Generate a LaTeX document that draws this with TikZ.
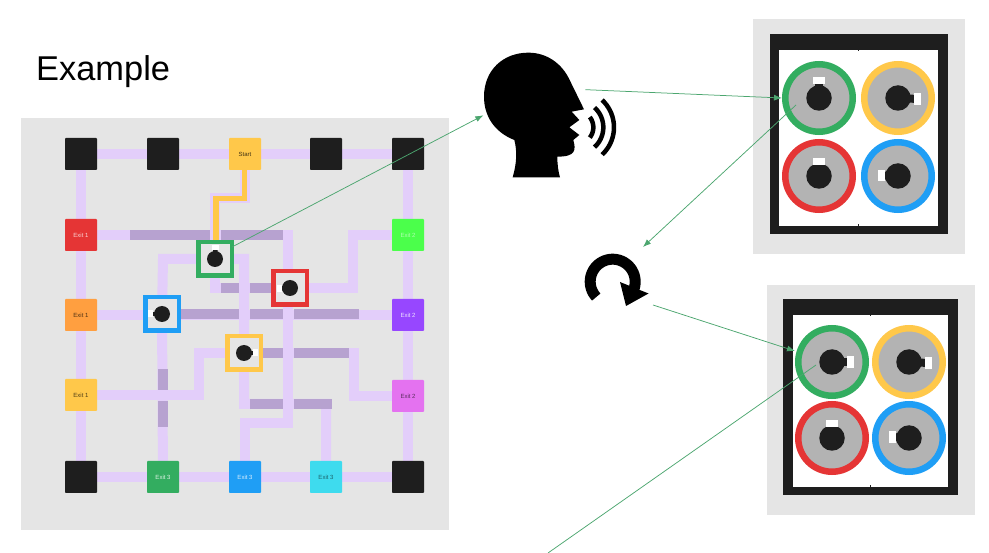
\documentclass[tikz,border=0pt]{standalone}
\usepackage{fontspec}
\setmainfont{Liberation Sans}
\usetikzlibrary{arrows.meta,backgrounds}
\definecolor{panelc}{HTML}{E5E5E5}
\definecolor{lightp}{HTML}{E3CEFA}
\definecolor{darkp}{HTML}{B7A2D0}
\definecolor{blackc}{HTML}{1E1E1E}
\definecolor{cred}{HTML}{E53535}
\definecolor{corange}{HTML}{FF9F40}
\definecolor{cyellow}{HTML}{FFC84A}
\definecolor{cgreen}{HTML}{33AD60}
\definecolor{cblue}{HTML}{1F9EF5}
\definecolor{ccyan}{HTML}{3EDBEE}
\definecolor{cmag}{HTML}{E472F0}
\definecolor{cpurple}{HTML}{9747FF}
\definecolor{clime}{HTML}{4BFF4B}
\definecolor{wheelc}{HTML}{B3B3B3}
\definecolor{conn}{HTML}{4CA66F}
\tikzset{
  tile/.style={minimum size=32,inner sep=0,rounded corners=0.8,font=\fontsize{6}{7}\selectfont},
  blk/.style={tile,fill=blackc},
  frm/.style={minimum size=33.5,inner sep=0,line width=4.5,draw=#1,fill=panelc},
  lane/.style={draw=lightp,line width=10,line join=miter},
  blocked/.style={draw=darkp,line width=10},
  hubdot/.style={circle,fill=blackc,inner sep=0,minimum size=16},
  conline/.style={draw=conn,line width=0.75},
  conarrow/.style={conline,-{Latex[length=8,width=6]}},
  wheeln/.style={circle,inner sep=0,minimum size=67.5,line width=6.5,draw=#1,fill=wheelc}
}
% wheel: name, centre x, y, ring colour, notch x, y, notch w, h
\newcommand{\mywheel}[8]{
  \node[wheeln=#4] (#1) at (#2,#3) {};
  \draw[blackc,line width=8] (#2,#3) -- (#5,#6);
  \node[circle,fill=blackc,inner sep=0,minimum size=25.5] (#1h) at (#2,#3) {};
  \node[fill=white,inner sep=0,minimum width=#7,minimum height=#8] (#1n) at (#5,#6) {};
}
% small tile wheel: name, x, y, colour, notch x, y, w, h
\newcommand{\myrobot}[8]{
  \node[frm=#4] (#1) at (#2,#3) {};
  \draw[blackc,line width=4.5] (#2,#3) -- (#5,#6);
  \node[fill=white,inner sep=0,minimum width=#7,minimum height=#8] (#1n) at (#5,#6) {};
  \node[hubdot] (#1h) at (#2,#3) {};
}
\begin{document}
\begin{tikzpicture}[x=1pt,y=-1pt]
\useasboundingbox (0,0) rectangle (989,553);

\node[anchor=base west,inner sep=0,font=\fontsize{34.4}{36}\selectfont] (title) at (36,81) {Example};

% tiles
\node[blk] (a1) at (81,154) {};
\node[blk] (a2) at (163,154) {};
\node[tile,fill=cyellow,text=black!75!cyellow] (start) at (245,154) {Start};
\node[blk] (a4) at (326,154) {};
\node[blk] (a5) at (408,154) {};
\node[tile,fill=cred,text=white!80!cred] (e1a) at (81,235) {Exit 1};
\node[tile,fill=corange,text=black!70!corange] (e1b) at (81,315) {Exit 1};
\node[tile,fill=cyellow,text=black!70!cyellow] (e1c) at (81,395) {Exit 1};
\node[tile,fill=clime,text=white!55!clime] (e2a) at (408,235) {Exit 2};
\node[tile,fill=cpurple,text=white!85!cpurple] (e2b) at (408,315) {Exit 2};
\node[tile,fill=cmag,text=black!60!cmag] (e2c) at (408,396) {Exit 2};
\node[blk] (b1) at (81,477) {};
\node[tile,fill=cgreen,text=white!85!cgreen] (e3a) at (163,477) {Exit 3};
\node[tile,fill=cblue,text=white!85!cblue] (e3b) at (245,477) {Exit 3};
\node[tile,fill=ccyan,text=black!55!ccyan] (e3c) at (326,477) {Exit 3};
\node[blk] (b5) at (408,477) {};

% robots
\myrobot{rg}{215}{259}{cgreen}{215.5}{248}{7}{5}
\myrobot{rr}{290}{288}{cred}{279.5}{288.5}{5}{7}
\myrobot{rb}{162}{314}{cblue}{150.5}{314}{5}{7}
\myrobot{ry}{244}{353}{cyellow}{255}{353}{5}{7}

\begin{pgfonlayer}{background}
\fill[panelc] (21,118) rectangle (449,530);
% perimeter
\draw[lane] (a1.center) -- (a5.center) -- (b5.center) -- (b1.center) -- cycle;
% lanes
\draw[lane] (start.center) -- (245,198) -- (215,198) -- (rg.center);
\draw[lane] (e1a.center) -- (288,235) -- (288,423) -- (245,423) -- (e3b.center);
\draw[lane] (rb.center) -- (163,259) -- (244,259) -- (ry.center) -- (244,404) -- (326,404) -- (e3c.center);
\draw[lane] (rg.center) -- (215,288) -- (rr.center) -- (353,288) -- (353,235) -- (e2a.center);
\draw[lane] (e1b.center) -- (e2b.center);
\draw[lane] (rb.center) -- (e3a.center);
\draw[lane] (e1c.center) -- (199,395) -- (199,353) -- (ry.center) -- (354,353) -- (354,396) -- (e2c.center);
% blocked segments
\draw[blocked] (130,235) -- (210,235);
\draw[blocked] (221,235) -- (283,235);
\draw[blocked] (221,288) -- (239,288);
\draw[blocked] (250,288) -- (272,288);
\draw[blocked] (180,314) -- (239,314);
\draw[blocked] (250,314) -- (283,314);
\draw[blocked] (294,314) -- (359,314);
\draw[blocked] (263,353) -- (283,353);
\draw[blocked] (294,353) -- (349,353);
\draw[blocked] (250,404) -- (283,404);
\draw[blocked] (294,404) -- (332,404);
\draw[blocked] (163,369) -- (163,390);
\draw[blocked] (163,401) -- (163,427);
\draw[draw=cyellow,line width=5.5] (244.5,170) -- (244.5,198.5) -- (216,198.5) -- (216,241);
\end{pgfonlayer}

% top-right panel
\fill[panelc] (753,19) rectangle (965,254);
\fill[blackc] (770,34) rectangle (948,234);
\fill[white] (779,50) rectangle (938,226);
\draw[blackc,line width=1] (858.7,50) -- (858.7,51.5) (858.7,226) -- (858.7,224.5);
\mywheel{tg}{819}{98}{cgreen}{819}{80.5}{11.5}{7}
\mywheel{ty}{898}{98}{cyellow}{917.5}{99}{7}{11.5}
\mywheel{tr}{819}{176}{cred}{819}{162}{11.5}{7}
\mywheel{tb}{898}{176}{cblue}{881}{175.5}{7}{11.5}

% bottom-right panel
\fill[panelc] (767,285) rectangle (975,515);
\fill[blackc] (783,299) rectangle (958,495);
\fill[white] (793,315) rectangle (948,487);
\draw[blackc,line width=1] (870.5,315) -- (870.5,316.5) (870.5,487) -- (870.5,485.5);
\mywheel{bg}{832}{362}{cgreen}{850}{362}{7}{11.5}
\mywheel{by}{909}{362}{cyellow}{928}{363}{7}{11.5}
\mywheel{br}{832}{438}{cred}{832}{424}{11.5}{7}
\mywheel{bb}{909}{438}{cblue}{892}{437}{7}{11.5}

% speaking head
\begin{scope}[shift={(470,40)},x=0.33333pt,y=-0.33333pt]
\fill[black] (128,412) .. controls (140,370) and (142,335) .. (133,300)
  .. controls (70,275) and (42,225) .. (42,170)
  .. controls (42,90) and (100,38) .. (175,38)
  .. controls (230,38) and (275,70) .. (298,118)
  -- (342,208) -- (305,215) -- (328,240) -- (298,262) -- (328,285) -- (310,300)
  .. controls (318,330) and (318,350) .. (262,350)
  .. controls (262,375) and (265,395) .. (270,412) -- cycle;
\draw[black,line width=4.5pt] plot[domain=-38:38,samples=20] ({320+50*cos(\x)},{262+50*sin(\x)});
\draw[black,line width=4.5pt] plot[domain=-48:48,samples=20] ({320+80*cos(\x)},{262+80*sin(\x)});
\draw[black,line width=4.5pt] plot[domain=-47:47,samples=20] ({320+112*cos(\x)},{262+112*sin(\x)});
\coordinate (headL) at (40,226);
\coordinate (headR) at (346,149);
\end{scope}

% rotate arrow
\draw[black,line width=11] plot[domain=137:380,samples=40] ({612.7+22.5*cos(\x)},{281.7+22.5*sin(\x)});
\fill[black] (620,282) -- (648.5,293.5) -- (626,306) -- cycle;
\coordinate (rotT) at (643,247);
\coordinate (rotB) at (653,305);
\coordinate (offb) at (548,553);

% connectors
\draw[conarrow] (232,247) -- (headL);
\draw[conarrow] (headR) -- (tg.west);
\draw[conarrow] (796,105) -- (rotT);
\draw[conarrow] (rotB) -- (795,351);
\draw[conline] (816,365) -- (offb);
\end{tikzpicture}
\end{document}
